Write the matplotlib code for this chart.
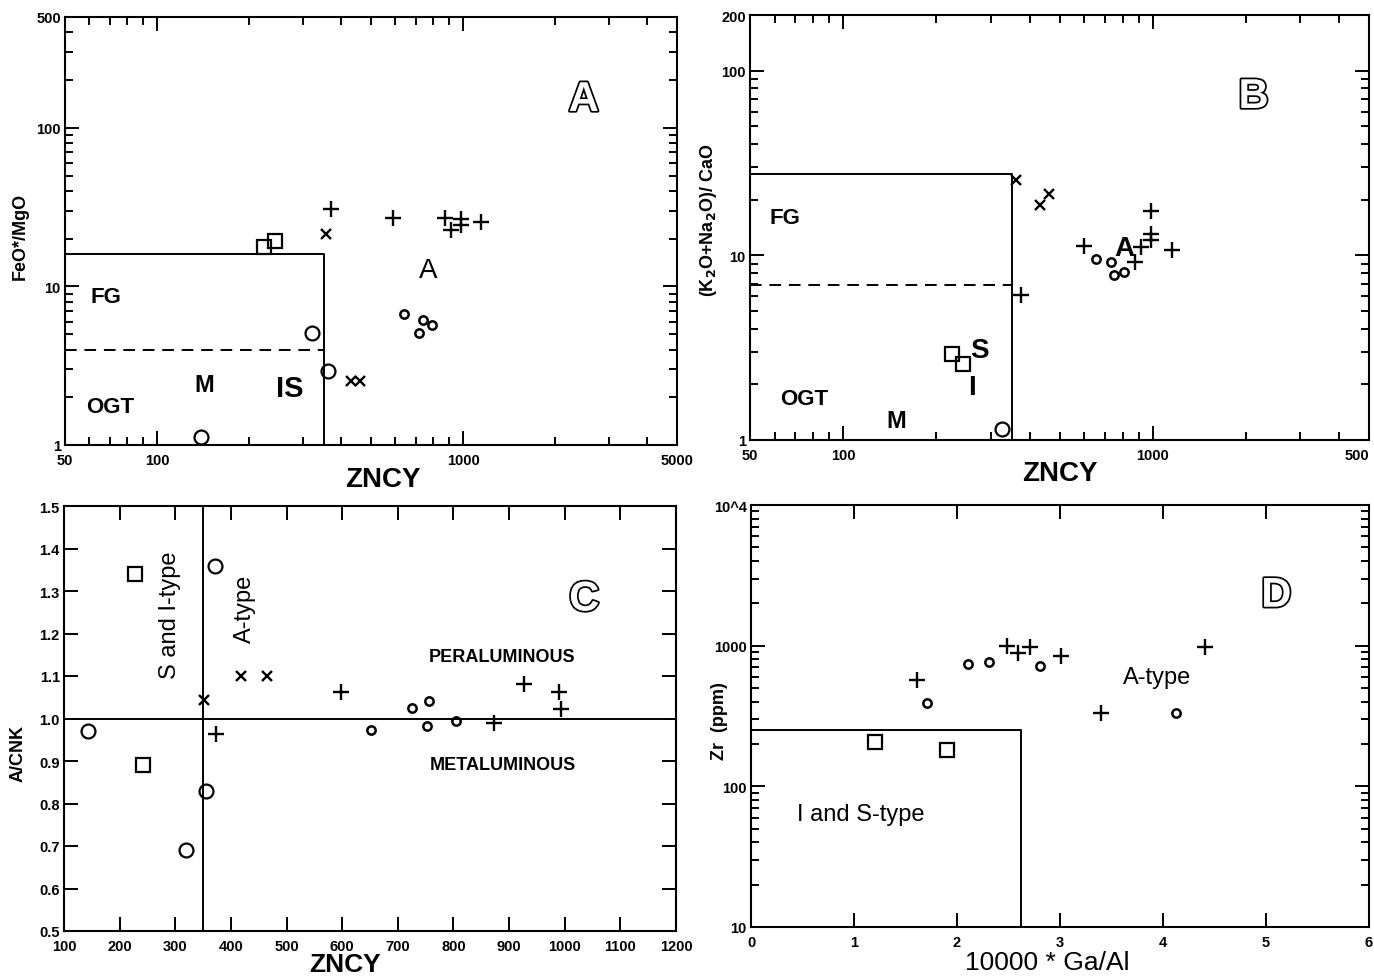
import numpy as np
import matplotlib
matplotlib.use('Agg')
import matplotlib.pyplot as plt
import matplotlib.patheffects as pe
from matplotlib.ticker import FixedLocator, FixedFormatter, LogLocator, NullFormatter

FONT = ['Liberation Sans Narrow', 'Liberation Sans', 'DejaVu Sans']
plt.rcParams['font.family'] = FONT
plt.rcParams['font.weight'] = 'bold'
plt.rcParams['axes.labelweight'] = 'bold'

# ---- panel A : FeO*/MgO vs ZNCY
a_sq_x = [224, 242]
a_sq_y = [17.6, 19.2]
a_circ_x = [139, 321, 361]
a_circ_y = [1.13, 5.07, 2.93]
a_small_x = [641, 740, 792, 718]
a_small_y = [6.7, 6.11, 5.69, 5.06]
a_cross_x = [356, 430, 459]
a_cross_y = [21.5, 2.54, 2.54]
a_plus_x = [370, 590, 875, 916, 986, 986, 1143]
a_plus_y = [31, 27, 27, 22.8, 26.8, 24.3, 25.5]
a_box_x, a_box_y, a_dash_y = 350, 16, 4.0

# ---- panel B : (K2O+Na2O)/CaO vs ZNCY
b_sq_x = [225, 244]
b_sq_y = [2.91, 2.58]
b_circ_x = [326]
b_circ_y = [1.15]
b_small_x = [654, 733, 750, 809]
b_small_y = [9.5, 9.17, 7.86, 8.1]
b_cross_x = [361, 432, 464]
b_cross_y = [25.7, 18.7, 21.5]
b_plus_x = [375, 599, 877, 918, 985, 985, 985, 1158]
b_plus_y = [6.07, 11.2, 9.17, 11.1, 17.3, 13.1, 12.1, 10.7]
b_box_x, b_box_y, b_dash_y = 350, 27.5, 6.9

# ---- panel C : A/CNK vs ZNCY
c_sq_x = [227, 242]
c_sq_y = [1.34, 0.89]
c_circ_x = [144, 372, 355, 319]
c_circ_y = [0.97, 1.36, 0.83, 0.69]
c_small_x = [651, 726, 756, 752, 804]
c_small_y = [0.974, 1.024, 1.041, 0.982, 0.995]
c_cross_x = [352, 419, 464]
c_cross_y = [1.043, 1.10, 1.10]
c_plus_x = [374, 597, 873, 927, 989, 993]
c_plus_y = [0.963, 1.062, 0.99, 1.082, 1.062, 1.023]
c_vline, c_hline = 350, 1.0

# ---- panel D : Zr vs 10000*Ga/Al
d_sq_x = [1.20, 1.90]
d_sq_y = [206, 180]
d_small_x = [1.705, 2.105, 2.307, 2.81, 4.13]
d_small_y = [392, 741, 771, 713, 331]
d_plus_x = [1.61, 2.49, 2.59, 2.71, 3.01, 3.40, 4.41]
d_plus_y = [574, 989, 887, 972, 839, 333, 973]
d_box_x, d_box_y = 2.62, 250


def marks(ax, x, y, kind):
    if kind == 'sq':
        ax.plot(x, y, 's', ms=10, mfc='none', mec='black', mew=1.6)
    elif kind == 'circ':
        ax.plot(x, y, 'o', ms=10, mfc='none', mec='black', mew=1.6)
    elif kind == 'small':
        ax.plot(x, y, 'o', ms=6, mfc='none', mec='black', mew=1.8)
    elif kind == 'cross':
        ax.plot(x, y, 'x', ms=7, mec='black', mew=1.7)
    elif kind == 'plus':
        ax.plot(x, y, '+', ms=11, mec='black', mew=1.7)


def style(ax):
    for s in ax.spines.values():
        s.set_linewidth(1.5)
    ax.tick_params(which='both', direction='in', top=True, right=True,
                   labelsize=10.5, width=1.4)
    ax.tick_params(axis='x', which='both', pad=6)
    ax.tick_params(axis='y', which='both', pad=3)
    ax.tick_params(which='major', length=10)
    ax.tick_params(which='minor', length=6)


def letter(ax, x, y, s):
    t = ax.text(x, y, s, fontsize=30, color='white', ha='center', va='center',
                fontweight='bold')
    t.set_path_effects([pe.withStroke(linewidth=2.5, foreground='black')])


def set_log_ticks(axis, ticks, labels):
    axis.set_major_locator(FixedLocator(ticks))
    axis.set_major_formatter(FixedFormatter(labels))
    axis.set_minor_locator(LogLocator(base=10, subs=np.arange(2, 10), numticks=20))
    axis.set_minor_formatter(NullFormatter())


fig = plt.figure(figsize=(13.74, 9.79), dpi=100)
W, H = 1374, 979


def add_ax(l, r, t, b):
    return fig.add_axes([l / W, 1 - b / H, (r - l) / W, (b - t) / H])


# ===== A
ax = add_ax(65, 677, 18, 446)
ax.set_xscale('log')
ax.set_yscale('log')
ax.set_xlim(50, 5000)
ax.set_ylim(1, 500)
set_log_ticks(ax.xaxis, [50, 100, 1000, 5000], ['50', '100', '1000', '5000'])
set_log_ticks(ax.yaxis, [1, 10, 100, 500], ['1', '10', '100', '500'])
style(ax)
ax.plot([50, a_box_x, a_box_x], [a_box_y, a_box_y, 1], color='black', lw=1.4)
ax.plot([50, a_box_x], [a_dash_y, a_dash_y], color='black', lw=1.4, ls=(0, (6, 4)))
marks(ax, a_sq_x, a_sq_y, 'sq')
marks(ax, a_circ_x, a_circ_y, 'circ')
marks(ax, a_small_x, a_small_y, 'small')
marks(ax, a_cross_x, a_cross_y, 'cross')
marks(ax, a_plus_x, a_plus_y, 'plus')
ax.text(68, 8.6, 'FG', fontsize=16, ha='center', va='center')
ax.text(70, 1.75, 'OGT', fontsize=16, ha='center', va='center')
ax.text(143, 2.4, 'M', fontsize=17, ha='center', va='center')
ax.text(272, 2.3, 'IS', fontsize=21, ha='center', va='center')
ax.text(771, 12.7, 'A', fontsize=20, ha='center', va='center', fontweight='normal')
letter(ax, 2478, 150, 'A')
ax.set_xlabel('ZNCY', fontsize=20)
ax.xaxis.set_label_coords(0.52, -0.05)
ax.set_ylabel('FeO*/MgO', fontsize=13)
ax.yaxis.set_label_coords(-0.06, 0.49)

# ===== B
ax = add_ax(750, 1369, 16, 441)
ax.set_xscale('log')
ax.set_yscale('log')
ax.set_xlim(50, 5000)
ax.set_ylim(1, 200)
set_log_ticks(ax.xaxis, [50, 100, 1000, 5000], ['50', '100', '1000', '500'])
set_log_ticks(ax.yaxis, [1, 10, 100, 200], ['1', '10', '100', '200'])
style(ax)
ax.get_xticklabels()[-1].set_horizontalalignment('right')
ax.plot([50, b_box_x, b_box_x], [b_box_y, b_box_y, 1], color='black', lw=1.4)
ax.plot([50, b_box_x], [b_dash_y, b_dash_y], color='black', lw=1.4, ls=(0, (6, 4)))
marks(ax, b_sq_x, b_sq_y, 'sq')
marks(ax, b_circ_x, b_circ_y, 'circ')
marks(ax, b_small_x, b_small_y, 'small')
marks(ax, b_cross_x, b_cross_y, 'cross')
marks(ax, b_plus_x, b_plus_y, 'plus')
ax.text(65, 16.1, 'FG', fontsize=16, ha='center', va='center')
ax.text(75, 1.68, 'OGT', fontsize=16, ha='center', va='center')
ax.text(148, 1.28, 'M', fontsize=17, ha='center', va='center')
ax.text(276, 3.07, 'S', fontsize=20, ha='center', va='center')
ax.text(261, 1.94, 'I', fontsize=20, ha='center', va='center')
ax.text(809, 11.0, 'A', fontsize=20, ha='center', va='center')
letter(ax, 2118, 72, 'B')
ax.set_xlabel('ZNCY', fontsize=20)
ax.xaxis.set_label_coords(0.5, -0.047)
ax.set_ylabel('(K$_2$O+Na$_2$O)/ CaO', fontsize=13)
ax.yaxis.set_label_coords(-0.05, 0.52)

# ===== C
ax = add_ax(64, 676, 507, 932)
ax.set_xlim(100, 1200)
ax.set_ylim(0.5, 1.5)
ax.set_xticks(np.arange(100, 1201, 100))
ax.set_yticks(np.arange(0.5, 1.51, 0.1))
ax.set_yticklabels(['%.1f' % v for v in np.arange(0.5, 1.51, 0.1)])
style(ax)
ax.axvline(c_vline, color='black', lw=1.4)
ax.axhline(c_hline, color='black', lw=1.4)
marks(ax, c_sq_x, c_sq_y, 'sq')
marks(ax, c_circ_x, c_circ_y, 'circ')
marks(ax, c_small_x, c_small_y, 'small')
marks(ax, c_cross_x, c_cross_y, 'cross')
marks(ax, c_plus_x, c_plus_y, 'plus')
ax.text(291, 1.245, 'S and I-type', fontsize=17, rotation=90, ha='center', va='center',
        fontweight='normal')
ax.text(426, 1.26, 'A-type', fontsize=17, rotation=90, ha='center', va='center',
        fontweight='normal')
ax.text(888, 1.147, 'PERALUMINOUS', fontsize=13, ha='center', va='center')
ax.text(888, 0.892, 'METALUMINOUS', fontsize=13, ha='center', va='center')
letter(ax, 1035, 1.28, 'C')
ax.set_xlabel('ZNCY', fontsize=19)
ax.xaxis.set_label_coords(0.46, -0.05)
ax.set_ylabel('A/CNK', fontsize=13)
ax.yaxis.set_label_coords(-0.062, 0.42)

# ===== D
ax = add_ax(751, 1369, 506, 928)
ax.set_yscale('log')
ax.set_xlim(0, 6)
ax.set_ylim(10, 10000)
ax.set_xticks(range(0, 7))
set_log_ticks(ax.yaxis, [10, 100, 1000, 10000], ['10', '100', '1000', '10^4'])
style(ax)
ax.plot([0, d_box_x, d_box_x], [d_box_y, d_box_y, 10], color='black', lw=1.4)
marks(ax, d_sq_x, d_sq_y, 'sq')
marks(ax, d_small_x, d_small_y, 'small')
marks(ax, d_plus_x, d_plus_y, 'plus')
ax.text(3.94, 596, 'A-type', fontsize=17, ha='center', va='center', fontweight='normal')
ax.text(1.07, 64, 'I and S-type', fontsize=17, ha='center', va='center', fontweight='normal')
letter(ax, 5.1, 2265, 'D')
ax.set_xlabel('10000 * Ga/Al', fontsize=19, fontweight='normal')
ax.xaxis.set_label_coords(0.48, -0.055)
ax.set_ylabel('Zr  (ppm)', fontsize=13)
ax.yaxis.set_label_coords(-0.038, 0.49)

fig.savefig('out.png', dpi=100)
